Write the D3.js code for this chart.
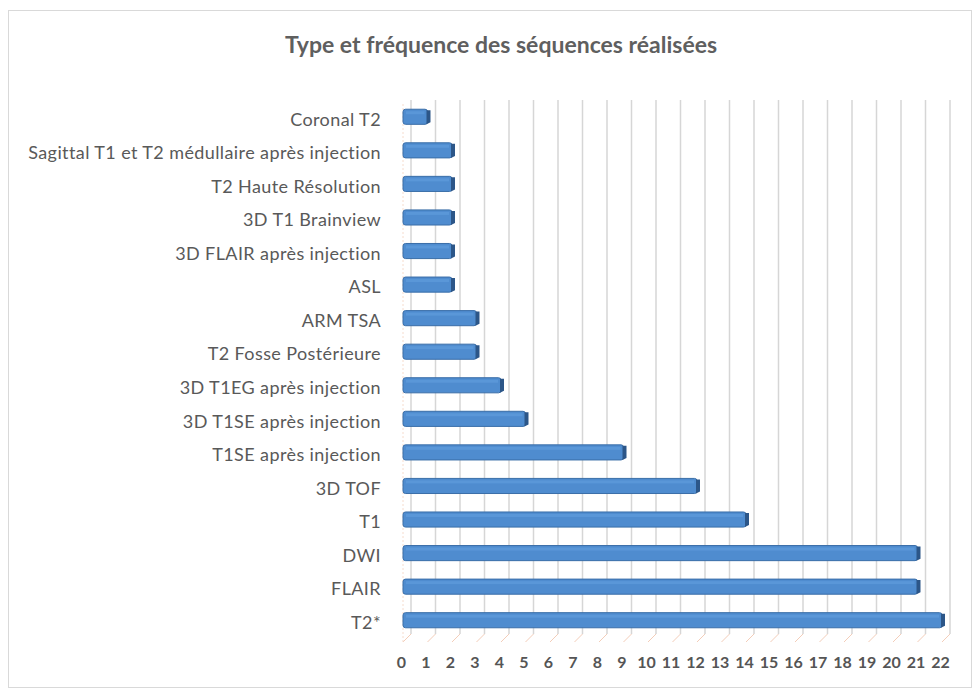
<!DOCTYPE html>
<meta charset="utf-8">
<style>
  body { margin: 0; background: #fff; }
  text { font-family: Lato, "Open Sans", sans-serif; }
</style>
<script src="https://d3js.org/d3.v7.min.js"></script>
<div id="my_dataviz"></div>
<script>

// data, top row first
var categories = ["Coronal T2", "Sagittal T1 et T2 médullaire après injection", "T2 Haute Résolution",
  "3D T1 Brainview", "3D FLAIR après injection", "ASL", "ARM TSA", "T2 Fosse Postérieure",
  "3D T1EG après injection", "3D T1SE après injection", "T1SE après injection", "3D TOF",
  "T1", "DWI", "FLAIR", "T2*"];
var counts = [1, 2, 2, 2, 2, 2, 3, 3, 4, 5, 9, 12, 14, 21, 21, 22];
var ticks = d3.range(0, 23);
var title = "Type et fréquence des séquences réalisées";

var W = 978, H = 690;
var depth = 8; // 3d offset of the back wall

var svg = d3.select("#my_dataviz").append("svg")
  .attr("width", W)
  .attr("height", H);

// chart frame
svg.append("rect")
  .attr("x", 8.5).attr("y", 10.5)
  .attr("width", 963).attr("height", 677)
  .attr("fill", "#fff")
  .attr("stroke", "#d9d9d9");

// front scale (bars) and the back wall is shifted right
var x = d3.scaleLinear().domain([0, 22]).range([403, 942]);
var y = d3.scaleBand()
  .domain(categories)
  .range([100, 637])
  .paddingInner(0.55)
  .paddingOuter(0.275);

var wallTop = 100, floorY = 640;

// back wall gridlines
svg.append("g").selectAll("line")
  .data(ticks)
  .join("line")
    .attr("x1", d => x(d) + depth).attr("x2", d => x(d) + depth)
    .attr("y1", wallTop).attr("y2", floorY - 6)
    .attr("stroke", "#d6d6d6")
    .attr("stroke-width", 1.5);

// floor lines
svg.append("g").selectAll("line")
  .data(ticks)
  .join("line")
    .attr("x1", d => x(d)).attr("x2", d => x(d) + depth)
    .attr("y1", floorY + 2).attr("y2", floorY - 6)
    .attr("stroke", "#f3cdb9")
    .attr("stroke-width", 1);

// left wall
svg.append("line")
  .attr("x1", x(0)).attr("x2", x(0))
  .attr("y1", wallTop + 4).attr("y2", floorY + 2)
  .attr("stroke", "#f6dccd")
  .attr("stroke-dasharray", "2,2");

var rows = categories.map(function(c, i) { return {name: c, value: counts[i]}; });

var bars = svg.append("g").selectAll("g")
  .data(rows)
  .join("g");

// front face
bars.append("rect")
  .attr("x", x(0))
  .attr("y", d => y(d.name))
  .attr("width", d => x(d.value) - x(0))
  .attr("height", y.bandwidth())
  .attr("rx", 2.5)
  .attr("fill", "#4f8ccf")
  .attr("stroke", "#3a6ea8")
  .attr("stroke-width", 1);

// top highlight
bars.append("rect")
  .attr("x", x(0) + 3)
  .attr("y", d => y(d.name) + 2)
  .attr("width", d => x(d.value) - x(0) - 6)
  .attr("height", 3)
  .attr("fill", "#5a97d8");

// dark end cap
bars.append("path")
  .attr("d", function(d) {
    var x1 = x(d.value), y0 = y(d.name), h = y.bandwidth();
    return "M" + (x1 - 1) + "," + (y0 + 1) + " L" + (x1 + 3) + "," + (y0 + 1)
      + " L" + (x1 + 3) + "," + (y0 + h - 2) + " L" + (x1 - 1) + "," + (y0 + h);
  })
  .attr("fill", "#2c5688");

// category axis
svg.append("g")
  .attr("transform", "translate(" + x(0) + ",3)")
  .call(d3.axisLeft(y).tickSize(0).tickPadding(22))
  .call(g => g.select(".domain").remove())
  .selectAll("text")
    .style("font-size", "18px")
    .style("letter-spacing", "0.4px")
    .style("font-family", "Lato, sans-serif")
    .attr("fill", "#595959");

// value axis
svg.append("g")
  .attr("transform", "translate(-2," + (floorY + 14) + ")")
  .call(d3.axisBottom(x).tickValues(ticks).tickSize(0).tickFormat(d3.format("d")))
  .call(g => g.select(".domain").remove())
  .selectAll("text")
    .style("font-size", "16px")
    .style("font-weight", "bold")
    .style("font-family", "Lato, sans-serif")
    .attr("fill", "#555");

// title
svg.append("text")
  .attr("x", 501)
  .attr("y", 53)
  .attr("text-anchor", "middle")
  .style("font-size", "23px")
  .style("font-weight", "bold")
  .attr("fill", "#5f5f5f")
  .text(title);

</script>
